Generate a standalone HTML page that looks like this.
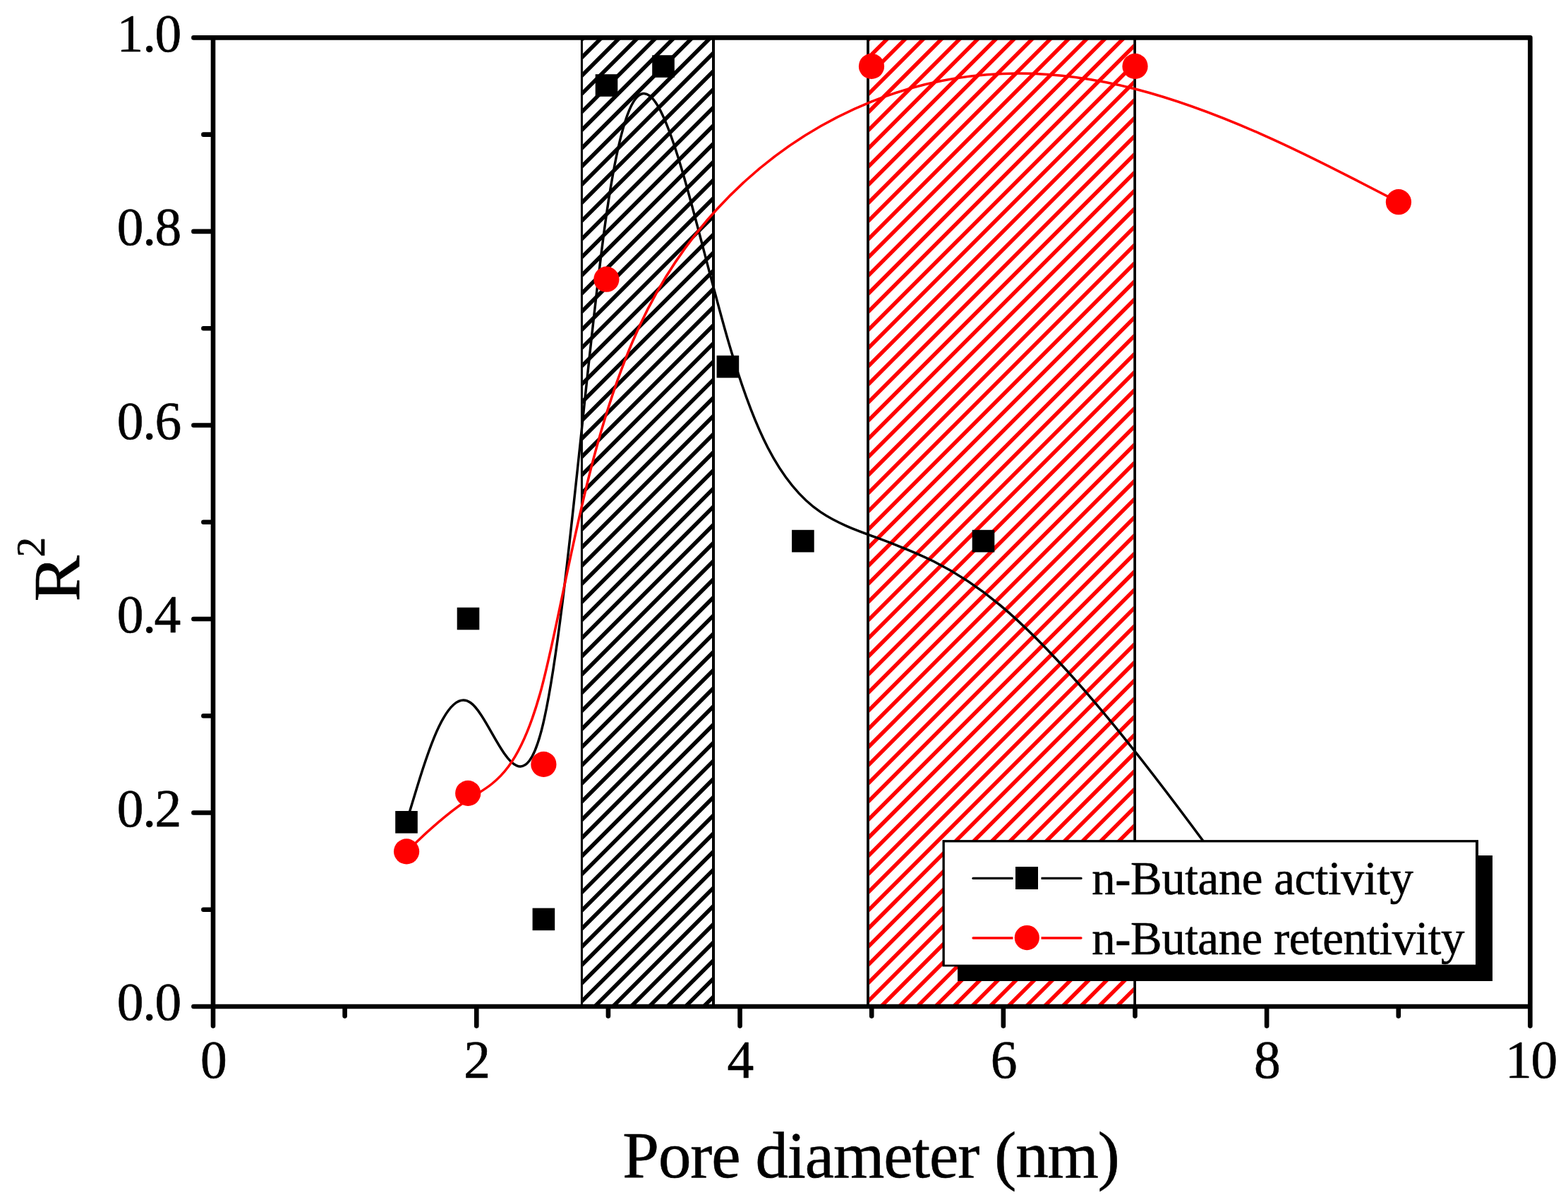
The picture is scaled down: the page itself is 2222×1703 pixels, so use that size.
<!DOCTYPE html>
<html lang="en"><head><meta charset="utf-8"><title>R2 vs Pore diameter</title>
<style>html,body{margin:0;padding:0;background:#fff;}body{width:2222px;height:1703px;overflow:hidden;}svg{display:block;}text{font-family:"Liberation Serif","Times New Roman",serif;fill:#000;}</style>
</head><body>
<svg width="2222" height="1703" viewBox="0 0 2222 1703" role="img" aria-label="R squared versus pore diameter">
<rect x="0" y="0" width="2222" height="1703" fill="#fff"/>
<defs><clipPath id="hb"><rect x="825.80" y="53.40" width="183.40" height="1372.60"/></clipPath></defs>
<g clip-path="url(#hb)" stroke="#000" stroke-width="5.60" fill="none">
<path d="M815.80 64.46L1019.20 -138.95M815.80 90.17L1019.20 -113.23M815.80 115.89L1019.20 -87.51M815.80 141.60L1019.20 -61.80M815.80 167.32L1019.20 -36.09M815.80 193.03L1019.20 -10.37M815.80 218.75L1019.20 15.35M815.80 244.46L1019.20 41.06M815.80 270.17L1019.20 66.77M815.80 295.89L1019.20 92.49M815.80 321.61L1019.20 118.20M815.80 347.32L1019.20 143.92M815.80 373.04L1019.20 169.63M815.80 398.75L1019.20 195.35M815.80 424.47L1019.20 221.07M815.80 450.18L1019.20 246.78M815.80 475.90L1019.20 272.50M815.80 501.61L1019.20 298.21M815.80 527.33L1019.20 323.92M815.80 553.04L1019.20 349.64M815.80 578.76L1019.20 375.36M815.80 604.47L1019.20 401.07M815.80 630.19L1019.20 426.79M815.80 655.90L1019.20 452.50M815.80 681.62L1019.20 478.21M815.80 707.33L1019.20 503.93M815.80 733.05L1019.20 529.64M815.80 758.76L1019.20 555.36M815.80 784.48L1019.20 581.08M815.80 810.19L1019.20 606.79M815.80 835.90L1019.20 632.50M815.80 861.62L1019.20 658.22M815.80 887.34L1019.20 683.93M815.80 913.05L1019.20 709.65M815.80 938.77L1019.20 735.37M815.80 964.48L1019.20 761.08M815.80 990.19L1019.20 786.79M815.80 1015.91L1019.20 812.51M815.80 1041.63L1019.20 838.23M815.80 1067.34L1019.20 863.94M815.80 1093.06L1019.20 889.65M815.80 1118.77L1019.20 915.37M815.80 1144.49L1019.20 941.09M815.80 1170.20L1019.20 966.80M815.80 1195.91L1019.20 992.51M815.80 1221.63L1019.20 1018.23M815.80 1247.35L1019.20 1043.94M815.80 1273.06L1019.20 1069.66M815.80 1298.77L1019.20 1095.37M815.80 1324.49L1019.20 1121.09M815.80 1350.21L1019.20 1146.81M815.80 1375.92L1019.20 1172.52M815.80 1401.63L1019.20 1198.23M815.80 1427.35L1019.20 1223.95M815.80 1453.06L1019.20 1249.66M815.80 1478.78L1019.20 1275.38M815.80 1504.50L1019.20 1301.10M815.80 1530.21L1019.20 1326.81M815.80 1555.92L1019.20 1352.52M815.80 1581.64L1019.20 1378.24M815.80 1607.35L1019.20 1403.95M815.80 1633.07L1019.20 1429.67"/>
</g>
<line x1="824.45" y1="53.40" x2="824.45" y2="1426.00" stroke="#000" stroke-width="3.00"/>
<line x1="1011.00" y1="53.40" x2="1011.00" y2="1426.00" stroke="#000" stroke-width="4.00"/>
<defs><clipPath id="hr"><rect x="1231.80" y="53.40" width="374.50" height="1372.60"/></clipPath></defs>
<g clip-path="url(#hr)" stroke="#f00" stroke-width="5.50" fill="none">
<path d="M1221.80 64.90L1616.30 -329.60M1221.80 90.60L1616.30 -303.90M1221.80 116.30L1616.30 -278.20M1221.80 142.00L1616.30 -252.50M1221.80 167.70L1616.30 -226.80M1221.80 193.40L1616.30 -201.10M1221.80 219.10L1616.30 -175.40M1221.80 244.80L1616.30 -149.70M1221.80 270.50L1616.30 -124.00M1221.80 296.20L1616.30 -98.30M1221.80 321.90L1616.30 -72.60M1221.80 347.60L1616.30 -46.90M1221.80 373.30L1616.30 -21.20M1221.80 399.00L1616.30 4.50M1221.80 424.70L1616.30 30.20M1221.80 450.40L1616.30 55.90M1221.80 476.10L1616.30 81.60M1221.80 501.80L1616.30 107.30M1221.80 527.50L1616.30 133.00M1221.80 553.20L1616.30 158.70M1221.80 578.90L1616.30 184.40M1221.80 604.60L1616.30 210.10M1221.80 630.30L1616.30 235.80M1221.80 656.00L1616.30 261.50M1221.80 681.70L1616.30 287.20M1221.80 707.40L1616.30 312.90M1221.80 733.10L1616.30 338.60M1221.80 758.80L1616.30 364.30M1221.80 784.50L1616.30 390.00M1221.80 810.20L1616.30 415.70M1221.80 835.90L1616.30 441.40M1221.80 861.60L1616.30 467.10M1221.80 887.30L1616.30 492.80M1221.80 913.00L1616.30 518.50M1221.80 938.70L1616.30 544.20M1221.80 964.40L1616.30 569.90M1221.80 990.10L1616.30 595.60M1221.80 1015.80L1616.30 621.30M1221.80 1041.50L1616.30 647.00M1221.80 1067.20L1616.30 672.70M1221.80 1092.90L1616.30 698.40M1221.80 1118.60L1616.30 724.10M1221.80 1144.30L1616.30 749.80M1221.80 1170.00L1616.30 775.50M1221.80 1195.70L1616.30 801.20M1221.80 1221.40L1616.30 826.90M1221.80 1247.10L1616.30 852.60M1221.80 1272.80L1616.30 878.30M1221.80 1298.50L1616.30 904.00M1221.80 1324.20L1616.30 929.70M1221.80 1349.90L1616.30 955.40M1221.80 1375.60L1616.30 981.10M1221.80 1401.30L1616.30 1006.80M1221.80 1427.00L1616.30 1032.50M1221.80 1452.70L1616.30 1058.20M1221.80 1478.40L1616.30 1083.90M1221.80 1504.10L1616.30 1109.60M1221.80 1529.80L1616.30 1135.30M1221.80 1555.50L1616.30 1161.00M1221.80 1581.20L1616.30 1186.70M1221.80 1606.90L1616.30 1212.40M1221.80 1632.60L1616.30 1238.10M1221.80 1658.30L1616.30 1263.80M1221.80 1684.00L1616.30 1289.50M1221.80 1709.70L1616.30 1315.20M1221.80 1735.40L1616.30 1340.90M1221.80 1761.10L1616.30 1366.60M1221.80 1786.80L1616.30 1392.30M1221.80 1812.50L1616.30 1418.00"/>
</g>
<line x1="1230.00" y1="53.40" x2="1230.00" y2="1426.00" stroke="#000" stroke-width="3.80"/>
<line x1="1608.10" y1="53.40" x2="1608.10" y2="1426.00" stroke="#000" stroke-width="3.70"/>
<path d="M576.00 1164.80C576.00 1164.80 576.00 1164.80 590.58 1116.75C605.17 1068.70 634.33 972.60 666.73 995.53C699.13 1018.47 734.77 1160.43 767.43 1034.52C800.10 908.60 829.80 514.80 858.07 313.40C886.33 112.00 913.17 103.00 941.82 169.42C970.47 235.83 1000.93 377.67 1033.92 489.77C1066.90 601.87 1102.40 684.23 1162.75 725.42C1223.10 766.60 1308.30 766.60 1417.82 857.83C1527.33 949.07 1661.17 1131.53 1728.08 1222.77C1795.00 1314.00 1795.00 1314.00 1795.00 1314.00" fill="none" stroke="#000" stroke-width="3.50" stroke-linejoin="round"/>
<path d="M576.10 1206.40C576.10 1206.40 576.10 1206.40 590.62 1192.65C605.13 1178.90 634.17 1151.40 666.55 1130.82C698.93 1110.23 734.67 1096.57 767.37 975.20C800.07 853.83 829.73 624.77 907.17 459.93C984.60 295.10 1109.80 194.50 1234.65 144.20C1359.50 93.90 1484.00 93.90 1608.48 125.95C1732.97 158.00 1857.43 222.10 1919.67 254.15C1981.90 286.20 1981.90 286.20 1981.90 286.20" fill="none" stroke="#f00" stroke-width="3.50" stroke-linejoin="round"/>
<rect x="560.20" y="1149.00" width="31.60" height="31.60" fill="#000"/>
<rect x="647.70" y="860.70" width="31.60" height="31.60" fill="#000"/>
<rect x="754.60" y="1286.60" width="31.60" height="31.60" fill="#000"/>
<rect x="843.70" y="105.20" width="31.60" height="31.60" fill="#000"/>
<rect x="924.20" y="78.20" width="31.60" height="31.60" fill="#000"/>
<rect x="1015.60" y="503.70" width="31.60" height="31.60" fill="#000"/>
<rect x="1122.10" y="750.80" width="31.60" height="31.60" fill="#000"/>
<rect x="1377.70" y="750.80" width="31.60" height="31.60" fill="#000"/>
<circle cx="576.10" cy="1206.40" r="18.10" fill="#f00"/>
<circle cx="663.20" cy="1123.90" r="18.10" fill="#f00"/>
<circle cx="770.40" cy="1082.90" r="18.10" fill="#f00"/>
<circle cx="859.40" cy="395.70" r="18.10" fill="#f00"/>
<circle cx="1235.00" cy="93.90" r="18.10" fill="#f00"/>
<circle cx="1608.50" cy="93.90" r="18.10" fill="#f00"/>
<circle cx="1981.90" cy="286.20" r="18.10" fill="#f00"/>
<g stroke="#000" stroke-width="6.60" fill="none" stroke-linecap="round">
<path d="M302.00 53.40L302.00 1426.00M2168.40 53.40L2168.40 1426.00M302.00 53.40L2168.40 53.40M302.00 1426.00L2168.40 1426.00M302.00 1426.00L274.40 1426.00M302.00 1288.74L288.40 1288.74M302.00 1151.48L274.40 1151.48M302.00 1014.22L288.40 1014.22M302.00 876.96L274.40 876.96M302.00 739.70L288.40 739.70M302.00 602.44L274.40 602.44M302.00 465.18L288.40 465.18M302.00 327.92L274.40 327.92M302.00 190.66L288.40 190.66M302.00 53.40L274.40 53.40M302.00 1426.00L302.00 1453.60M488.64 1426.00L488.64 1439.60M675.28 1426.00L675.28 1453.60M861.92 1426.00L861.92 1439.60M1048.56 1426.00L1048.56 1453.60M1235.20 1426.00L1235.20 1439.60M1421.84 1426.00L1421.84 1453.60M1608.48 1426.00L1608.48 1439.60M1795.12 1426.00L1795.12 1453.60M1981.76 1426.00L1981.76 1439.60M2168.40 1426.00L2168.40 1453.60"/>
</g>
<g font-size="75.50" stroke="#000" stroke-width="0.6" stroke-linejoin="round">
<text x="165.70 202.20 219.40" y="1445.10">0.0</text>
<text x="165.70 202.20 219.40" y="1170.58">0.2</text>
<text x="165.70 202.20 218.50" y="896.06">0.4</text>
<text x="165.70 202.20 219.40" y="621.54">0.6</text>
<text x="165.70 202.20 219.40" y="347.02">0.8</text>
<text x="165.40 202.20 219.40" y="72.50">1.0</text>
<text x="302.80" y="1526.7" text-anchor="middle">0</text>
<text x="676.08" y="1526.7" text-anchor="middle">2</text>
<text x="1049.36" y="1526.7" text-anchor="middle">4</text>
<text x="1422.64" y="1526.7" text-anchor="middle">6</text>
<text x="1795.92" y="1526.7" text-anchor="middle">8</text>
<text x="2133.00 2169.50" y="1526.7">10</text>
</g>
<g stroke="#000" stroke-width="0.6" stroke-linejoin="round">
<text x="882.3" y="1668.4" font-size="93" textLength="704.5" lengthAdjust="spacing">Pore diameter (nm)</text>
<g transform="translate(112.0,852.4) rotate(-90)"><text x="0" y="0" font-size="94" transform="scale(1.045,1)">R</text><text x="63.0" y="-49.0" font-size="57">2</text></g>
</g>
<rect x="1357" y="1212" width="758" height="178" fill="#000"/>
<rect x="1335.5" y="1190.1" width="759.5" height="179.4" fill="#000"/>
<rect x="1338.8" y="1193.4" width="752.2" height="173.3" fill="#fff"/>
<line x1="1379" y1="1244.4" x2="1532" y2="1244.4" stroke="#000" stroke-width="3.3" stroke-linecap="round"/>
<rect x="1435.5" y="1226" width="40" height="36" fill="#fff"/>
<rect x="1439" y="1228" width="32" height="32" fill="#000"/>
<line x1="1379" y1="1329.0" x2="1532" y2="1329.0" stroke="#f00" stroke-width="3.3" stroke-linecap="round"/>
<rect x="1435.5" y="1310" width="40" height="38" fill="#fff"/>
<circle cx="1455.3" cy="1328.6" r="17.6" fill="#f00"/>
<g font-size="66.8" stroke="#000" stroke-width="0.6" stroke-linejoin="round">
<text x="1547.2" y="1267.1" textLength="455.6" lengthAdjust="spacing">n-Butane activity</text>
<text x="1547.2" y="1351.9" textLength="528.2" lengthAdjust="spacing">n-Butane retentivity</text>
</g>
</svg>
</body></html>
